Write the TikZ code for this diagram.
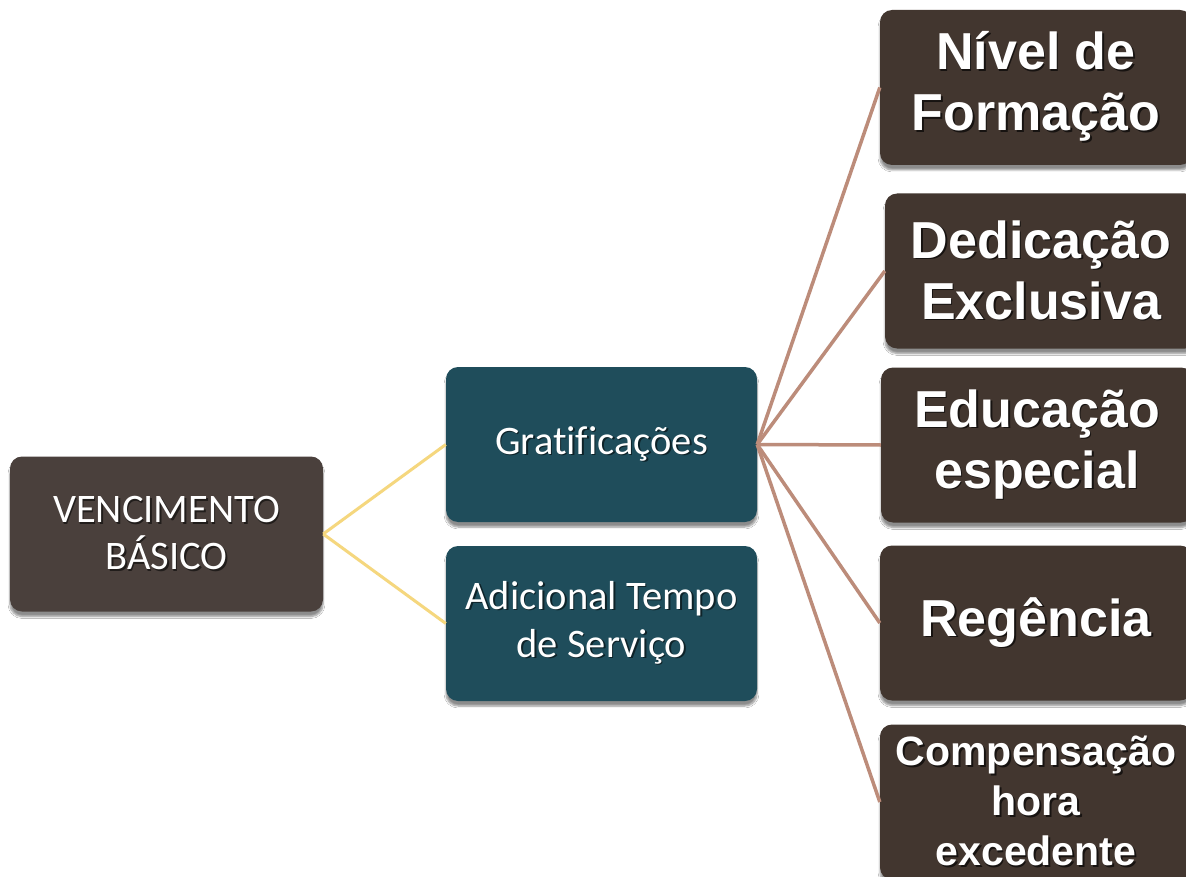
\documentclass[tikz,border=0pt]{standalone}
\usepackage{fontspec}
\setmainfont{Carlito}[Ligatures=NoCommon]
\newfontfamily\rightfont{Liberation Sans}
\usetikzlibrary{shadows.blur}
\definecolor{darkbox}{HTML}{4A403C}
\definecolor{rightbox}{HTML}{42362F}
\definecolor{tealbox}{HTML}{1F4D5B}
\definecolor{yellowline}{HTML}{F5D77E}
\definecolor{brownline}{HTML}{BC8C7A}
\newcommand\shtxt[1]{\makebox[0pt][l]{\raisebox{-1.6pt}{\hspace{1.6pt}\textcolor{txtsh}{#1}}}#1}
\tikzset{
  basebox/.style={rounded corners=12pt, inner sep=0pt, align=center, text=white,
    minimum height=155pt, blur shadow={shadow xshift=0pt, shadow yshift=-5pt, shadow blur steps=6, shadow opacity=45}},
  leftbox/.style={basebox, fill=darkbox, minimum width=313pt, font=\colorlet{txtsh}{black!55!darkbox}\fontsize{40.5}{47}\selectfont},
  midbox/.style={basebox, fill=tealbox, minimum width=311pt, font=\colorlet{txtsh}{black!55!tealbox}\fontsize{40.5}{48}\selectfont},
  rbox/.style={basebox, fill=rightbox, minimum width=312pt, font=\colorlet{txtsh}{black!65!rightbox}\rightfont\bfseries\fontsize{52}{61}\selectfont},
  rboxsmall/.style={rbox, font=\colorlet{txtsh}{black!65!rightbox}\rightfont\bfseries\fontsize{41}{50}\selectfont},
  yline/.style={draw=yellowline, line width=3pt},
  bline/.style={draw=brownline, line width=3.5pt},
}
\begin{document}
\begin{tikzpicture}[x=1pt,y=-1pt]
\path[use as bounding box] (0,0) rectangle (1186,877);
\clip (0,0) rectangle (1186,877);
\fill[white] (0,0) rectangle (1186,877);
% nodes
\node[leftbox] (vb) at (166.5,534) {\shtxt{VENCIMENTO}\\\shtxt{BÁSICO}};
\node[midbox] (grat) at (601.5,444.5) {\shtxt{Gratificações}};
\node[midbox] (adic) at (601.5,623.5) {\shtxt{Adicional Tempo}\\\shtxt{de Serviço}};
\node[rbox] (nivel) at (1036,87.5) {\shtxt{Nível de}\\\shtxt{Formação}};
\node[rbox] (dedic) at (1041,271) {\shtxt{Dedicação}\\\shtxt{Exclusiva}};
\node[rbox] (educ) at (1037,445) {\shtxt{Educação}\\\shtxt{especial}};
\node[rbox] (reg) at (1036,623) {\shtxt{Regência}};
\node[rboxsmall] (comp) at (1036,802) {\shtxt{Compensação}\\\shtxt{hora}\\\shtxt{excedente}};
% connectors
\draw[yline] (vb.east) -- (grat.west);
\draw[yline] (vb.east) -- (adic.west);
\draw[bline] (grat.east) -- (nivel.west);
\draw[bline] (grat.east) -- (dedic.west);
\draw[bline] (grat.east) -- (educ.west);
\draw[bline] (grat.east) -- (reg.west);
\draw[bline] (grat.east) -- (comp.west);
\end{tikzpicture}
\end{document}
